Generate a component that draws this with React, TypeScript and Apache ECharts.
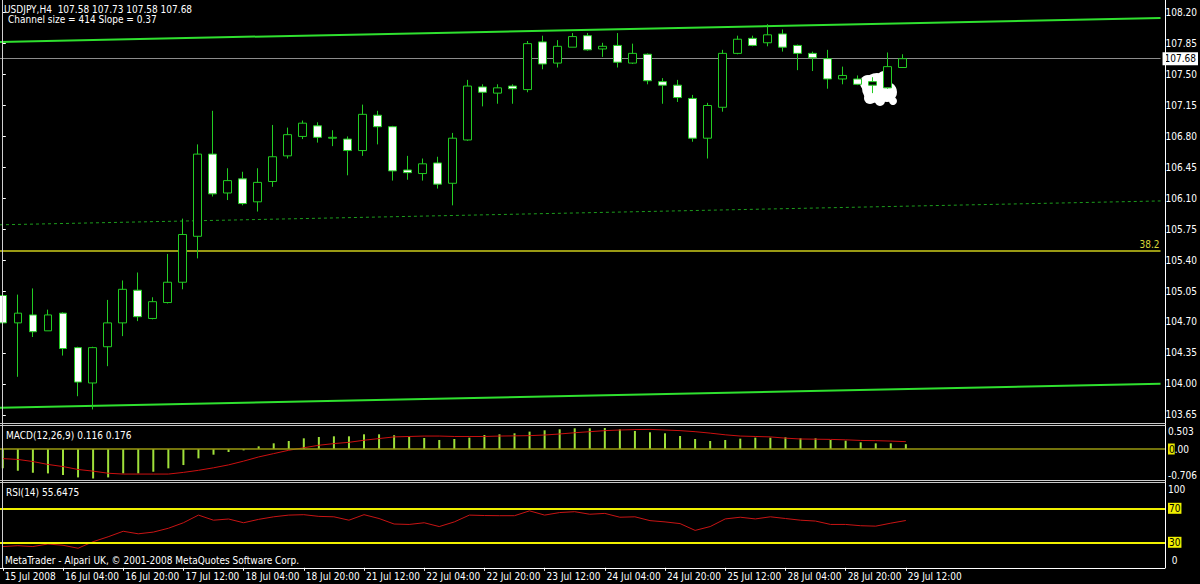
import React, { useEffect, useRef } from "react";
import * as echarts from "echarts";

// ---------- texts ----------
const symbolTitle = "USDJPY,H4\u00a0\u00a0107.58 107.73 107.58 107.68";
const channelTitle = "Channel size = 414 Slope = 0.37";
const macdTitle = "MACD(12,26,9) 0.116 0.176";
const rsiTitle = "RSI(14) 55.6475";
const copyright = "MetaTrader - Alpari UK, \u00a9 2001-2008 MetaQuotes Software Corp.";

// ---------- price bars (H4), [open, high, low, close] ----------
const ohlc: number[][] = [
  [105.0, 105.06, 104.5, 104.69],
  [104.69, 105.01, 104.08, 104.8],
  [104.78, 105.08, 104.53, 104.59],
  [104.6, 104.84, 104.6, 104.78],
  [104.8, 104.81, 104.32, 104.4],
  [104.41, 104.42, 103.86, 104.02],
  [104.01, 104.42, 103.71, 104.41],
  [104.42, 104.95, 104.2, 104.69],
  [104.69, 105.17, 104.54, 105.07],
  [105.06, 105.26, 104.71, 104.76],
  [104.74, 104.98, 104.73, 104.93],
  [104.92, 105.47, 104.91, 105.15],
  [105.15, 105.87, 105.07, 105.69],
  [105.67, 106.71, 105.42, 106.6],
  [106.6, 107.09, 106.12, 106.15],
  [106.16, 106.44, 106.08, 106.3],
  [106.32, 106.4, 106.02, 106.04],
  [106.06, 106.44, 105.95, 106.28],
  [106.29, 106.93, 106.23, 106.57],
  [106.58, 106.9, 106.55, 106.82],
  [106.8, 106.98, 106.77, 106.95],
  [106.92, 106.96, 106.73, 106.79],
  [106.78, 106.87, 106.69, 106.79],
  [106.77, 106.8, 106.36, 106.64],
  [106.64, 107.16, 106.58, 107.05],
  [107.04, 107.09, 106.71, 106.91],
  [106.91, 106.92, 106.3, 106.41],
  [106.42, 106.58, 106.31, 106.39],
  [106.38, 106.55, 106.3, 106.49],
  [106.5, 106.57, 106.21, 106.26],
  [106.27, 106.84, 106.02, 106.78],
  [106.76, 107.44, 106.75, 107.37],
  [107.36, 107.39, 107.14, 107.3],
  [107.29, 107.39, 107.17, 107.35],
  [107.37, 107.39, 107.17, 107.34],
  [107.33, 107.88, 107.3, 107.85],
  [107.87, 107.94, 107.56, 107.62],
  [107.63, 107.89, 107.58, 107.82],
  [107.81, 107.97, 107.81, 107.93],
  [107.94, 107.97, 107.77, 107.78],
  [107.79, 107.86, 107.7, 107.82],
  [107.83, 107.97, 107.58, 107.64],
  [107.63, 107.85, 107.62, 107.74],
  [107.73, 107.74, 107.39, 107.43],
  [107.42, 107.46, 107.17, 107.38],
  [107.38, 107.44, 107.19, 107.24],
  [107.23, 107.27, 106.74, 106.78],
  [106.78, 107.18, 106.55, 107.15],
  [107.13, 107.78, 107.08, 107.74],
  [107.74, 107.94, 107.73, 107.9],
  [107.91, 107.94, 107.82, 107.83],
  [107.86, 108.07, 107.82, 107.95],
  [107.96, 108.01, 107.76, 107.81],
  [107.83, 107.84, 107.55, 107.74],
  [107.74, 107.76, 107.54, 107.69],
  [107.68, 107.78, 107.34, 107.45],
  [107.45, 107.59, 107.39, 107.49],
  [107.45, 107.49, 107.38, 107.39],
  [107.38, 107.47, 107.29, 107.42],
  [107.35, 107.75, 107.34, 107.59],
  [107.58, 107.73, 107.58, 107.68],
];

// ---------- MACD(12,26,9) ----------
const macdMain: number[] = [
  -0.463, -0.52, -0.568, -0.584, -0.624, -0.68, -0.706, -0.68, -0.584, -0.584,
  -0.544, -0.463, -0.384, -0.224, -0.136, -0.072, -0.032, 0.064, 0.136, 0.192,
  0.256, 0.288, 0.304, 0.304, 0.352, 0.352, 0.33, 0.296, 0.264, 0.216,
  0.24, 0.272, 0.336, 0.352, 0.376, 0.416, 0.448, 0.472, 0.496, 0.496,
  0.503, 0.472, 0.432, 0.4, 0.376, 0.312, 0.24, 0.192, 0.216, 0.248,
  0.272, 0.272, 0.28, 0.256, 0.256, 0.216, 0.2, 0.16, 0.136, 0.136,
  0.116,
];
const macdSignal: number[] = [
  -0.23, -0.25, -0.3, -0.37, -0.42, -0.49, -0.53, -0.58, -0.6, -0.6,
  -0.6, -0.6, -0.56, -0.51, -0.45, -0.38, -0.29, -0.19, -0.11, -0.03,
  0.03, 0.09, 0.13, 0.16, 0.21, 0.25, 0.29, 0.3, 0.31, 0.31,
  0.3, 0.3, 0.3, 0.31, 0.315, 0.32, 0.335, 0.36, 0.39, 0.415,
  0.44, 0.455, 0.465, 0.47, 0.455, 0.44, 0.415, 0.38, 0.34, 0.31,
  0.3, 0.29, 0.26, 0.24, 0.235, 0.23, 0.22, 0.205, 0.2, 0.19,
  0.176,
];

// ---------- RSI(14) ----------
const rsiValues: number[] = [
  25, 26, 25, 28, 26.5, 23, 30.7, 36.5, 43, 40,
  42, 46.5, 53, 62, 56, 57.4, 53, 57, 60, 62,
  62.5, 60.5, 60, 56, 62.5, 58, 51.5, 51, 53, 48.5,
  54, 62, 61.5, 61.3, 61.3, 67, 62, 65, 66, 63,
  64, 59.5, 60, 55.5, 54, 52, 44, 48.5, 57.5, 59.5,
  57.5, 60, 58, 56, 55, 51, 51, 49.5, 49, 52.5,
  55.6475,
];

// ---------- axes ----------
const timeTickBars = [0, 4, 8, 12, 16, 20, 24, 28, 32, 36, 40, 44, 48, 52, 56, 60];
const timeLabels = [
  "15 Jul 2008", "16 Jul 04:00", "16 Jul 20:00", "17 Jul 12:00", "18 Jul 04:00",
  "18 Jul 20:00", "21 Jul 12:00", "22 Jul 04:00", "22 Jul 20:00", "23 Jul 12:00",
  "24 Jul 04:00", "24 Jul 20:00", "25 Jul 12:00", "28 Jul 04:00", "28 Jul 20:00",
  "29 Jul 12:00",
];
const priceTicks = [
  103.65, 104.0, 104.35, 104.7, 105.05, 105.4, 105.75, 106.1, 106.45, 106.8,
  107.15, 107.5, 107.85, 108.2,
];
const macdTicks = [0.503, 0, -0.706];
const rsiTicks = [100, 70, 30, 0];
const rsiLevels = [70, 30];
const currentPrice = 107.68;
const fibLevel = 105.51;
const fibLabel = "38.2";

// regression channel: [bar, price] end points
const channelBars = [-0.186, 77.22];
const channelLow = [103.73, 104.0];
const channelMid = [105.8, 106.07];
const channelHigh = [107.87, 108.14];

const X_MIN = -0.186;
const X_MAX = 77.22;
const FONT = '"Liberation Sans Narrow", "DejaVu Sans Condensed", "Liberation Sans", Arial, sans-serif';
const FS = 10;
const WHITE = "#ffffff";
const LIME = "#2fe02f";
const CANDLE = "#22cc22";

const GRID_MAIN = { left: 0, top: 0, width: 1165, height: 423 };
const GRID_MACD = { left: 0, top: 428, width: 1165, height: 50.5 };
const GRID_RSI = { left: 0, top: 482.8, width: 1165, height: 85 };

function buildOption() {
  const candleData = ohlc.map((d, i) => [i, d[0], d[3], d[2], d[1]]);
  const macdData = macdMain.map((v, i) => [i, v]);
  const signalData = macdSignal.map((v, i) => [i, v]);
  const rsiData = rsiValues.map((v, i) => [i, v]);
  const chan = (arr: number[]) => channelBars.map((b, k) => [b, arr[k]]);

  const xAxisBase = (g: number) => ({
    type: "value",
    gridIndex: g,
    min: X_MIN,
    max: X_MAX,
    axisLine: { show: false },
    axisTick: { show: false },
    axisLabel: { show: false },
    splitLine: { show: false },
  });

  const textEl = (x: number, y: number, text: string) => ({
    type: "text",
    x,
    y,
    silent: true,
    z: 20,
    style: {
      text,
      fill: WHITE,
      fontSize: FS,
      fontFamily: FONT,
      verticalAlign: "middle",
      align: "left",
    },
  });
  const hLine = (y: number, x1: number, x2: number, color: string) => ({
    type: "line",
    silent: true,
    z: 20,
    shape: { x1, y1: y, x2, y2: y },
    style: { stroke: color, lineWidth: 1 },
  });
  const vLine = (x: number, y1: number, y2: number, color: string) => ({
    type: "line",
    silent: true,
    z: 20,
    shape: { x1: x, y1, x2: x, y2 },
    style: { stroke: color, lineWidth: 1 },
  });
  const blob = (cx: number, cy: number, r: number) => ({
    type: "circle",
    silent: true,
    z: 1,
    shape: { cx, cy, r },
    style: { fill: "#ffffff" },
  });

  // RSI bottom tick: drawn as a panel-level text beside the 30 level
  const rsiBottom = rsiTicks[rsiTicks.length - 1];
  const rsiAxisTicks = rsiTicks.slice(0, rsiTicks.length - 1);
  const rsiBottomY = GRID_RSI.top + GRID_RSI.height * (1 - rsiBottom / 100) - 7;

  return {
    animation: false,
    backgroundColor: "#000000",
    textStyle: { fontFamily: FONT },
    grid: [GRID_MAIN, GRID_MACD, GRID_RSI],
    xAxis: [
      xAxisBase(0),
      xAxisBase(1),
      {
        ...xAxisBase(2),
        axisLine: { show: true, lineStyle: { color: WHITE, width: 1 } },
        axisTick: {
          show: true,
          customValues: timeTickBars,
          length: 3,
          lineStyle: { color: WHITE },
        },
        axisLabel: {
          show: true,
          customValues: timeTickBars,
          showMinLabel: true,
          showMaxLabel: true,
          formatter: (v: number) => timeLabels[timeTickBars.indexOf(Math.round(v))] ?? "",
          color: WHITE,
          fontSize: FS,
          fontFamily: FONT,
          align: "left",
          margin: 4,
          padding: [0, 0, 0, 2],
        },
      },
    ],
    yAxis: [
      {
        type: "value",
        gridIndex: 0,
        position: "right",
        min: 103.557,
        max: 108.344,
        axisLine: { show: false },
        axisTick: { show: true, customValues: priceTicks, length: 3, lineStyle: { color: WHITE } },
        axisLabel: {
          customValues: priceTicks,
          showMinLabel: true,
          showMaxLabel: true,
          formatter: (v: number) => v.toFixed(2),
          color: WHITE,
          fontSize: FS,
          fontFamily: FONT,
          margin: 5,
        },
        splitLine: { show: false },
      },
      {
        type: "value",
        gridIndex: 1,
        position: "right",
        min: -0.706,
        max: 0.503,
        axisLine: { show: false },
        axisTick: { show: false },
        axisLabel: {
          customValues: macdTicks,
          showMinLabel: true,
          showMaxLabel: true,
          color: WHITE,
          fontSize: FS,
          fontFamily: FONT,
          margin: 3,
          formatter: (v: number) =>
            v > 0 ? "{t|" + v.toFixed(3) + "}" : v < 0 ? "{m|" + v.toFixed(3) + "}" : "{y|0}{w|.00}",
          rich: {
            t: { color: WHITE, fontSize: FS, fontFamily: FONT, padding: [6, 0, 0, 0] },
            m: { color: WHITE, fontSize: FS, fontFamily: FONT, padding: [0, 0, 7, 0] },
            y: { color: "#000", backgroundColor: "#e8e800", fontSize: FS, fontFamily: FONT, padding: [1, 0, 0, 1] },
            w: { color: WHITE, fontSize: FS, fontFamily: FONT },
          },
        },
        splitLine: { show: false },
      },
      {
        type: "value",
        gridIndex: 2,
        position: "right",
        min: 0,
        max: 100,
        axisLine: { show: false },
        axisTick: { show: false },
        axisLabel: {
          customValues: rsiAxisTicks,
          showMinLabel: true,
          showMaxLabel: true,
          color: WHITE,
          fontSize: FS,
          fontFamily: FONT,
          margin: 3,
          formatter: (v: number) => (v === 100 ? "{t|100}" : "{y|" + v + "}"),
          rich: {
            t: { color: WHITE, fontSize: FS, fontFamily: FONT, padding: [14, 0, 0, 0] },
            y: { color: "#000", backgroundColor: "#f0f000", fontSize: FS, fontFamily: FONT, padding: [1, 1, 0, 1] },
          },
        },
        splitLine: { show: false },
      },
    ],
    series: [
      {
        type: "line",
        name: "channelHigh",
        xAxisIndex: 0,
        yAxisIndex: 0,
        data: chan(channelHigh),
        symbol: "none",
        clip: true,
        z: 3,
        lineStyle: { color: LIME, width: 2 },
      },
      {
        type: "line",
        name: "channelLow",
        xAxisIndex: 0,
        yAxisIndex: 0,
        data: chan(channelLow),
        symbol: "none",
        clip: true,
        z: 3,
        lineStyle: { color: LIME, width: 2 },
      },
      {
        type: "line",
        name: "channelMid",
        xAxisIndex: 0,
        yAxisIndex: 0,
        data: chan(channelMid),
        symbol: "none",
        clip: true,
        z: 3,
        lineStyle: { color: "#1c9c1c", width: 1, type: [3, 3] },
      },
      {
        type: "candlestick",
        name: "USDJPY",
        xAxisIndex: 0,
        yAxisIndex: 0,
        data: candleData,
        encode: { x: 0, y: [1, 2, 3, 4] },
        barWidth: 8,
        clip: true,
        z: 4,
        itemStyle: {
          color: "#000000",
          color0: "#ffffff",
          borderColor: CANDLE,
          borderColor0: CANDLE,
          borderColorDoji: CANDLE,
          borderWidth: 1,
        },
        markLine: {
          symbol: "none",
          silent: true,
          animation: false,
          z: 2,
          data: [
            {
              yAxis: currentPrice,
              lineStyle: { color: "#8c8c8c", width: 1, type: "solid" },
              label: {
                show: true,
                position: "end",
                distance: 2,
                formatter: currentPrice.toFixed(2),
                color: "#000",
                backgroundColor: "#ffffff",
                padding: [2, 2, 1, 2],
                fontSize: FS,
                fontFamily: FONT,
              },
            },
            {
              yAxis: fibLevel,
              lineStyle: { color: "#9a9a14", width: 2, type: "solid" },
              label: {
                show: true,
                position: "insideEndTop",
                distance: 1,
                formatter: fibLabel,
                color: "#d8d838",
                fontSize: FS,
                fontFamily: FONT,
              },
            },
          ],
        },
      },
      {
        type: "bar",
        name: "MACD",
        xAxisIndex: 1,
        yAxisIndex: 1,
        data: macdData,
        barWidth: 2,
        itemStyle: { color: "#9fe03a" },
        z: 3,
        markLine: {
          symbol: "none",
          silent: true,
          animation: false,
          label: { show: false },
          data: [{ yAxis: 0, lineStyle: { color: "#9a9a10", width: 1.5, type: "solid" } }],
        },
      },
      {
        type: "line",
        name: "Signal",
        xAxisIndex: 1,
        yAxisIndex: 1,
        data: signalData,
        symbol: "none",
        z: 4,
        lineStyle: { color: "#cc1010", width: 1 },
      },
      {
        type: "line",
        name: "RSI",
        xAxisIndex: 2,
        yAxisIndex: 2,
        data: rsiData,
        symbol: "none",
        z: 4,
        lineStyle: { color: "#c81414", width: 1 },
        markLine: {
          symbol: "none",
          silent: true,
          animation: false,
          label: { show: false },
          data: rsiLevels.map((v) => ({ yAxis: v, lineStyle: { color: "#f0f000", width: 2, type: "solid" } })),
        },
      },
    ],
    graphic: [
      blob(877, 88, 15),
      blob(868, 83, 8),
      blob(887, 92, 10),
      blob(893, 101, 4),
      blob(870, 98, 6),
      blob(880, 101, 5),
      blob(884, 78, 7),
      vLine(2.5, 0, 568, "#d0d0d0"),
      vLine(1165.5, 0, 568, WHITE),
      hLine(423.5, 0, 1165.5, "#c8c8c8"),
      hLine(425.5, 0, 1165.5, "#c8c8c8"),
      hLine(480.5, 0, 1165.5, "#c8c8c8"),
      hLine(482.5, 0, 1165.5, "#c8c8c8"),
      textEl(4, 9, symbolTitle),
      textEl(8, 19.5, channelTitle),
      textEl(6, 435.5, macdTitle),
      textEl(6, 492, rsiTitle),
      textEl(5, 560.5, copyright),
      textEl(1169, rsiBottomY, "\u00a0" + rsiBottom + "\u00a0"),
    ],
  };
}

export default function App() {
  const ref = useRef<HTMLDivElement>(null);
  useEffect(() => {
    if (!ref.current) return;
    const chart = echarts.init(ref.current, undefined, { renderer: "svg" });
    chart.setOption(buildOption() as any);
    return () => chart.dispose();
  }, []);
  return (
    <div
      style={{ position: "fixed", left: 0, top: 0, width: 1200, height: 584, background: "#000" }}
    >
      <div ref={ref} style={{ width: 1200, height: 584 }} />
    </div>
  );
}
